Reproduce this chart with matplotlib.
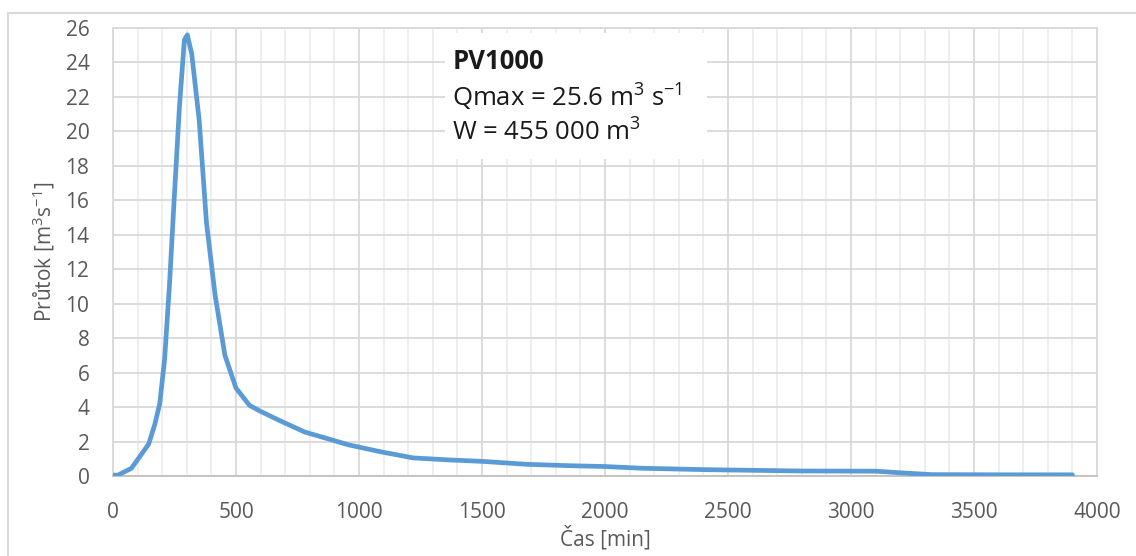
import matplotlib
matplotlib.use("Agg")
import matplotlib.pyplot as plt
from matplotlib.patches import Rectangle
from matplotlib.ticker import MultipleLocator

plt.rcParams['font.family'] = ['Open Sans', 'DejaVu Sans']
plt.rcParams['mathtext.fontset'] = 'custom'
plt.rcParams['mathtext.rm'] = 'Open Sans'
plt.rcParams['mathtext.it'] = 'Open Sans'
plt.rcParams['mathtext.bf'] = 'Open Sans:bold'

# Hydrograph of the PV1000 design flood
time_min = [0, 20, 75, 145, 170, 190, 210, 230, 250, 270, 290, 302, 320, 350,
            380, 415, 455, 500, 555, 600, 680, 780, 960, 1090, 1220, 1370,
            1500, 1680, 1850, 2000, 2150, 2400, 2600, 2800, 3100, 3230, 3330,
            3600, 3900]
flow_m3s = [0.05, 0.05, 0.45, 1.85, 3.0, 4.2, 6.8, 11.2, 16.4, 21.4, 25.3,
            25.6, 24.5, 20.7, 14.7, 10.5, 7.0, 5.1, 4.1, 3.75, 3.2, 2.55, 1.8,
            1.4, 1.05, 0.93, 0.85, 0.68, 0.6, 0.55, 0.45, 0.37, 0.33, 0.29,
            0.28, 0.16, 0.08, 0.07, 0.07]

x_ticks = [0, 500, 1000, 1500, 2000, 2500, 3000, 3500, 4000]
y_ticks = list(range(0, 27, 2))

title_line = "PV1000"
qmax_line = r"Qmax = 25.6 m$^{3}$ s$^{-1}$"
volume_line = r"W = 455 000 m$^{3}$"

W, H = 1136, 556
fig = plt.figure(figsize=(W / 100, H / 100), dpi=100)

# chart frame
fig.add_artist(Rectangle((8 / W, -0.1), 1.2, 1 - 13 / H + 0.1,
                         transform=fig.transFigure, fill=False,
                         edgecolor='#D9D9D9', linewidth=1.5))

ax = fig.add_axes([113 / W, 1 - 476 / H, (1097 - 113) / W, (476 - 28) / H])

ax.set_xlim(0, 4000)
ax.set_ylim(0, 26)
ax.set_xticks(x_ticks)
ax.set_yticks(y_ticks)
ax.xaxis.set_minor_locator(MultipleLocator(100))

ax.grid(which='major', color='#D9D9D9', linewidth=1.3)
ax.grid(which='minor', axis='x', color='#EDEDED', linewidth=1.3)
ax.set_axisbelow(True)
for s in ax.spines.values():
    s.set_color('#D9D9D9')
    s.set_linewidth(1.3)
ax.spines['bottom'].set_color('#BFBFBF')

ax.tick_params(which='both', length=0, colors='#595959', labelsize=15)
ax.tick_params(axis='x', pad=19)
ax.tick_params(axis='y', pad=17)

ax.plot(time_min, flow_m3s, color='#5B9BD5', linewidth=3.4,
        solid_joinstyle='round', solid_capstyle='round', zorder=3)

ax.set_xlabel("Čas [min]", color='#595959', fontsize=15, labelpad=2)
ax.set_ylabel(r"Průtok [m$^{3}$s$^{-1}$]", color='#595959', fontsize=15,
              labelpad=6)

# annotation box
ax.add_patch(Rectangle((1350, 18.4), 1065, 7.3, facecolor='white',
                       edgecolor='none', zorder=2))
ax.text(1380, 24.05, title_line, fontsize=18.5, fontweight='bold',
        color='#1A1A1A', va='center', ha='left', zorder=4)
ax.text(1380, 21.95, qmax_line, fontsize=18.5, color='#1A1A1A',
        va='center', ha='left', zorder=4)
ax.text(1380, 19.9, volume_line, fontsize=18.5, color='#1A1A1A',
        va='center', ha='left', zorder=4)

fig.savefig("out.png", dpi=100, facecolor='white')
